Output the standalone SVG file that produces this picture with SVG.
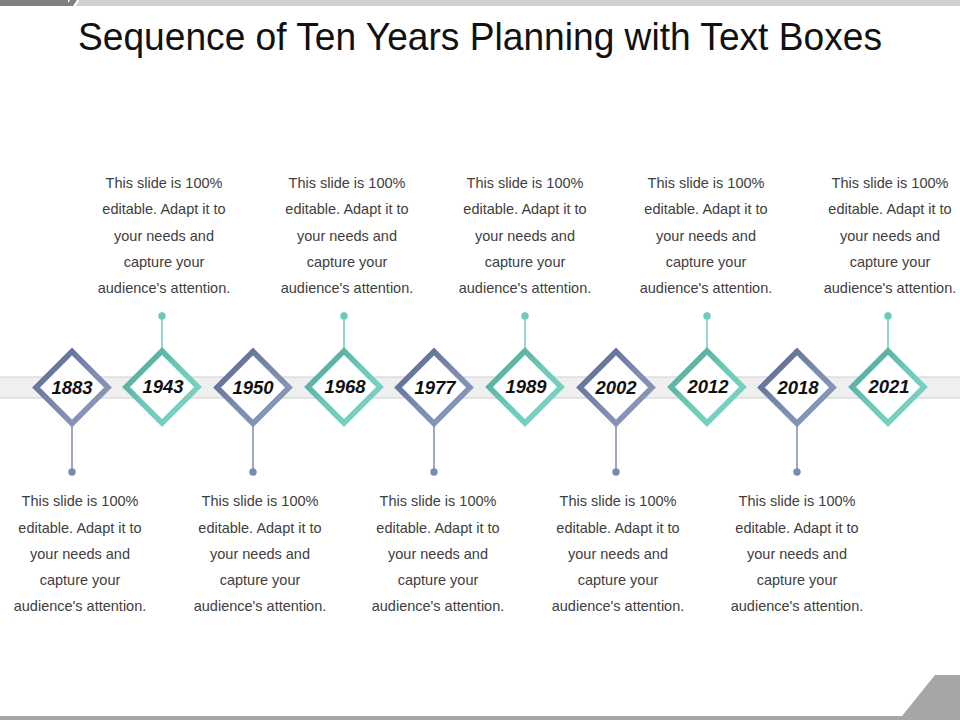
<svg xmlns="http://www.w3.org/2000/svg" width="960" height="720" viewBox="0 0 960 720">
<defs>
<linearGradient id="gT" x1="0" y1="0" x2="1" y2="1">
<stop offset="0" stop-color="#4f9f93"/><stop offset="0.5" stop-color="#6ccab9"/><stop offset="1" stop-color="#7fd6c6"/>
</linearGradient>
<linearGradient id="gB" x1="0" y1="0" x2="1" y2="1">
<stop offset="0" stop-color="#55628a"/><stop offset="0.5" stop-color="#7b8bb0"/><stop offset="1" stop-color="#8d9cbd"/>
</linearGradient>
<polygon id="dm" points="0,-36 36,0 0,36 -36,0"/>
</defs>
<style>
.body{font-family:"Liberation Sans",Arial,sans-serif;font-size:14.5px;fill:#404040;text-anchor:middle}
.yr{font-family:"Liberation Sans",Arial,sans-serif;font-size:18.5px;font-weight:bold;font-style:italic;fill:#111;text-anchor:middle}
.t use{fill:#fff;stroke:url(#gT);stroke-width:5.5}
.b use{fill:#fff;stroke:url(#gB);stroke-width:5.5}
.t line{stroke:#6ccab9;stroke-width:1.5}
.b line{stroke:#7b8bb0;stroke-width:1.5}
.t circle{fill:#6ccab9}
.b circle{fill:#7b8bb0}
</style>
<rect width="960" height="720" fill="#fff"/>
<!-- decorative bars -->
<rect x="0" y="0" width="68" height="6" fill="#808080"/>
<polygon points="70,0 77,0 73,6 66,6" fill="#808080"/>
<polygon points="79,0 960,0 960,6 76,6" fill="#d1cfcf"/>
<rect x="0" y="716" width="960" height="4" fill="#a6a6a6"/>
<polygon points="935,675 960,675 960,720 902,720 902,716" fill="#a6a6a6"/>
<text x="480" y="50" font-family="'Liberation Sans',Arial,sans-serif" font-size="39" fill="#111" text-anchor="middle" textLength="804" lengthAdjust="spacingAndGlyphs">Sequence of Ten Years Planning with Text Boxes</text>
<!-- band -->
<rect x="-2" y="377" width="964" height="21" fill="#efefef" stroke="#cfcfcf" stroke-width="1"/>
<g id="connectors">
</g>
<!-- nodes -->
<g id="n1883" class="b"><line x1="72" y1="424" x2="72" y2="472"/><circle cx="72" cy="472" r="3.7"/><use href="#dm" x="72" y="387.5"/><text class="yr" x="72" y="394">1883</text>
<text class="body" x="80"><tspan x="80" y="506">This slide is 100%</tspan><tspan x="80" y="533">editable. Adapt it to</tspan><tspan x="80" y="559">your needs and</tspan><tspan x="80" y="585">capture your</tspan><tspan x="80" y="611">audience's attention.</tspan></text></g>
<g id="n1943" class="t"><line x1="162" y1="316" x2="162" y2="351"/><circle cx="162" cy="316" r="3.7"/><use href="#dm" x="162" y="387"/><text class="yr" x="163" y="393">1943</text>
<text class="body"><tspan x="164" y="188">This slide is 100%</tspan><tspan x="164" y="214">editable. Adapt it to</tspan><tspan x="164" y="241">your needs and</tspan><tspan x="164" y="267">capture your</tspan><tspan x="164" y="293">audience's attention.</tspan></text></g>
<g id="n1950" class="b"><line x1="253" y1="424" x2="253" y2="472"/><circle cx="253" cy="472" r="3.7"/><use href="#dm" x="253" y="387.5"/><text class="yr" x="253" y="394">1950</text>
<text class="body"><tspan x="260" y="506">This slide is 100%</tspan><tspan x="260" y="533">editable. Adapt it to</tspan><tspan x="260" y="559">your needs and</tspan><tspan x="260" y="585">capture your</tspan><tspan x="260" y="611">audience's attention.</tspan></text></g>
<g id="n1968" class="t"><line x1="344" y1="316" x2="344" y2="351"/><circle cx="344" cy="316" r="3.7"/><use href="#dm" x="344" y="387"/><text class="yr" x="345" y="393">1968</text>
<text class="body"><tspan x="347" y="188">This slide is 100%</tspan><tspan x="347" y="214">editable. Adapt it to</tspan><tspan x="347" y="241">your needs and</tspan><tspan x="347" y="267">capture your</tspan><tspan x="347" y="293">audience's attention.</tspan></text></g>
<g id="n1977" class="b"><line x1="434" y1="424" x2="434" y2="472"/><circle cx="434" cy="472" r="3.7"/><use href="#dm" x="434" y="387.5"/><text class="yr" x="435" y="394">1977</text>
<text class="body"><tspan x="438" y="506">This slide is 100%</tspan><tspan x="438" y="533">editable. Adapt it to</tspan><tspan x="438" y="559">your needs and</tspan><tspan x="438" y="585">capture your</tspan><tspan x="438" y="611">audience's attention.</tspan></text></g>
<g id="n1989" class="t"><line x1="525" y1="316" x2="525" y2="351"/><circle cx="525" cy="316" r="3.7"/><use href="#dm" x="525" y="387"/><text class="yr" x="526" y="393">1989</text>
<text class="body"><tspan x="525" y="188">This slide is 100%</tspan><tspan x="525" y="214">editable. Adapt it to</tspan><tspan x="525" y="241">your needs and</tspan><tspan x="525" y="267">capture your</tspan><tspan x="525" y="293">audience's attention.</tspan></text></g>
<g id="n2002" class="b"><line x1="616" y1="424" x2="616" y2="472"/><circle cx="616" cy="472" r="3.7"/><use href="#dm" x="616" y="387.5"/><text class="yr" x="616" y="394">2002</text>
<text class="body"><tspan x="618" y="506">This slide is 100%</tspan><tspan x="618" y="533">editable. Adapt it to</tspan><tspan x="618" y="559">your needs and</tspan><tspan x="618" y="585">capture your</tspan><tspan x="618" y="611">audience's attention.</tspan></text></g>
<g id="n2012" class="t"><line x1="707" y1="316" x2="707" y2="351"/><circle cx="707" cy="316" r="3.7"/><use href="#dm" x="707" y="387"/><text class="yr" x="708" y="393">2012</text>
<text class="body"><tspan x="706" y="188">This slide is 100%</tspan><tspan x="706" y="214">editable. Adapt it to</tspan><tspan x="706" y="241">your needs and</tspan><tspan x="706" y="267">capture your</tspan><tspan x="706" y="293">audience's attention.</tspan></text></g>
<g id="n2018" class="b"><line x1="797" y1="424" x2="797" y2="472"/><circle cx="797" cy="472" r="3.7"/><use href="#dm" x="797" y="387.5"/><text class="yr" x="798" y="394">2018</text>
<text class="body"><tspan x="797" y="506">This slide is 100%</tspan><tspan x="797" y="533">editable. Adapt it to</tspan><tspan x="797" y="559">your needs and</tspan><tspan x="797" y="585">capture your</tspan><tspan x="797" y="611">audience's attention.</tspan></text></g>
<g id="n2021" class="t"><line x1="888" y1="316" x2="888" y2="351"/><circle cx="888" cy="316" r="3.7"/><use href="#dm" x="888" y="387"/><text class="yr" x="889" y="393">2021</text>
<text class="body"><tspan x="890" y="188">This slide is 100%</tspan><tspan x="890" y="214">editable. Adapt it to</tspan><tspan x="890" y="241">your needs and</tspan><tspan x="890" y="267">capture your</tspan><tspan x="890" y="293">audience's attention.</tspan></text></g>
</svg>
